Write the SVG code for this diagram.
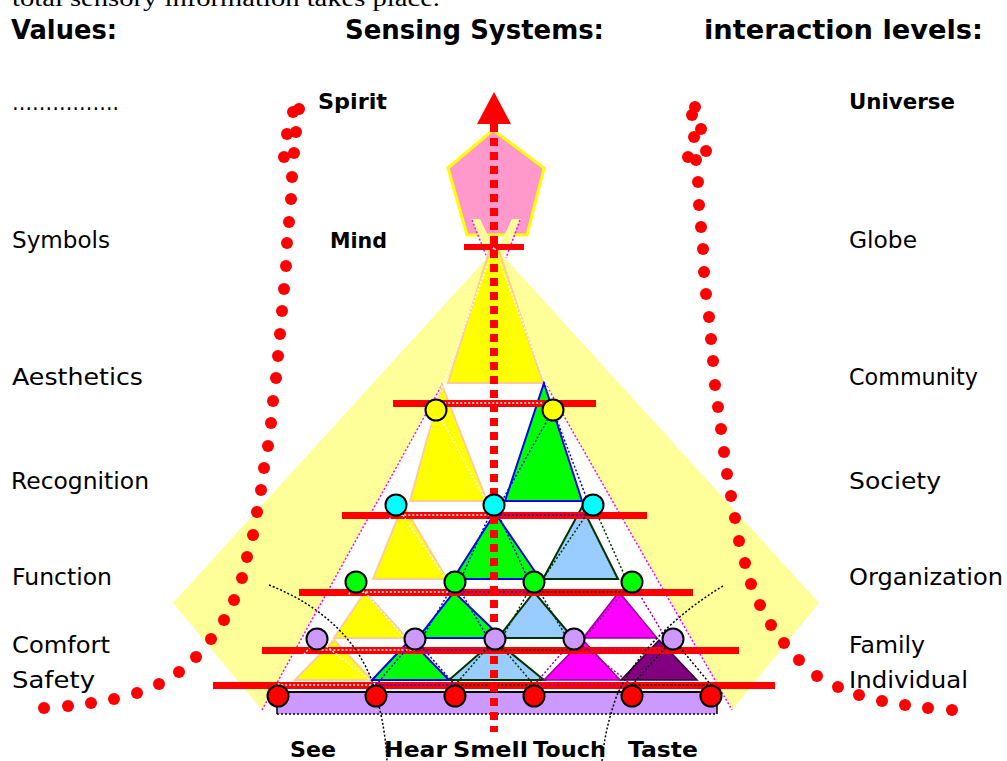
<svg xmlns="http://www.w3.org/2000/svg" width="1007" height="761" viewBox="0 0 1007 761">
<style>
.hd{font-family:"DejaVu Sans",sans-serif;font-weight:bold;font-size:27px;fill:#000}
.lb{font-family:"DejaVu Sans",sans-serif;font-size:23px;fill:#000}
.bl{font-family:"DejaVu Sans",sans-serif;font-weight:bold;font-size:22px;fill:#000}
.bar{fill:#FF0000}
.rd{fill:#FF0000}
.cir{stroke:#000;stroke-width:2}
.ty{fill:#FFFF00;stroke:#FFCC99;stroke-width:2}
.tg{fill:#00FF00;stroke:#0000FF;stroke-width:2}
.tb{fill:#99CCFF;stroke:#003300;stroke-width:2}
.tm{fill:#FF00FF;stroke:#990099;stroke-width:1.5}
.tp{fill:#800080;stroke:#330033;stroke-width:1.5}
.dw{fill:none;stroke:#FFFFFF;stroke-width:1.5;stroke-dasharray:2 2}
.db{fill:none;stroke:#0000FF;stroke-width:1.5;stroke-dasharray:2 2}
.dk{fill:none;stroke:#003300;stroke-width:1.5;stroke-dasharray:2 2}
.dm{fill:none;stroke:#990099;stroke-width:1.5;stroke-dasharray:2 2}
.dp{fill:none;stroke:#000000;stroke-width:1.5;stroke-dasharray:2 2}
.pk{fill:none;stroke:#FF00FF;stroke-width:1.5;stroke-dasharray:2 2}
.bk{fill:none;stroke:#000;stroke-width:1.5;stroke-dasharray:2 2}
</style>

<text x="12" y="6" font-family="Liberation Serif, serif" font-size="24" textLength="428" lengthAdjust="spacingAndGlyphs">total sensory information takes place.</text>

<g id="headers">
<text class="hd" x="11" y="39" textLength="106" lengthAdjust="spacingAndGlyphs">Values:</text>
<text class="hd" x="345" y="39" textLength="259" lengthAdjust="spacingAndGlyphs">Sensing Systems:</text>
<text class="hd" x="704" y="39" textLength="279" lengthAdjust="spacingAndGlyphs">interaction levels:</text>
</g>

<g id="background">
<polygon points="496,248 819,603 732,710 262,710 173,603" fill="#FFFF99"/>
<polygon points="443,383 545,383 732,710 262,710" fill="#FFFFFF"/>
</g>

<g id="spirit-pentagon">
<polygon points="493,130 544,168 527,235 467,235 448,168" fill="#FF99CC" stroke="#FFFF00" stroke-width="3"/>
<polygon points="471,219 480,219 495,250 489,258" fill="#FFFF99"/>
<polygon points="521,219 512,219 497,250 503,258" fill="#FFFF99"/>
<line class="pk" x1="472" y1="220" x2="487" y2="258"/>
<line class="pk" x1="520" y1="220" x2="506" y2="258"/>
</g>

<g id="pyramid">
<line class="pk" x1="443" y1="383" x2="262" y2="710"/>
<line class="pk" x1="545" y1="383" x2="732" y2="710"/>
<polygon class="ty" points="494,236 543,383 448,383"/>
<polygon class="ty" points="442,385 487,501 410,501"/>
<polygon class="tg" points="544,383 582,501 505,501"/>
<polygon class="ty" points="403,505 447,579 373,579"/>
<polygon class="tg" points="495,513 540,579 453,579"/>
<polygon class="tb" points="582,507 618,579 543,579"/>
<polygon class="ty" points="365,592 407,638 334,638"/>
<polygon class="tg" points="454,592 502,638 418,638"/>
<polygon class="tb" points="534,592 573,638 498,638"/>
<polygon class="tm" points="619,592 657,638 583,638"/>
<polygon class="ty" points="334,640 372,680 295,680"/>
<polygon class="tg" points="410,640 449,680 372,680"/>
<polygon class="tb" points="495,640 544,680 449,680"/>
<polygon class="tm" points="583,640 620,680 544,680"/>
<polygon class="tp" points="659,640 697,680 621,680"/>
</g>

<g id="levels">
<rect class="bar" x="464" y="244" width="60" height="6"/>
<rect class="bar" x="393" y="400" width="203" height="7"/>
<rect class="bar" x="342" y="512" width="305" height="7"/>
<rect class="bar" x="299" y="589" width="394" height="7"/>
<rect class="bar" x="262" y="647" width="477" height="7"/>
<rect class="bar" x="213" y="682" width="562" height="7"/>
</g>

<g id="dotted-lattice">
<polyline class="dw" points="436,403 494,247 553,403 436,403"/>
<polyline class="dw" points="396,515 436,410 494,515 396,515"/>
<polyline class="db" points="494,515 553,410 593,515 494,515"/>
<polyline class="dw" points="356,592 396,505 455,592 356,592"/>
<polyline class="db" points="455,592 494,505 534,592 455,592"/>
<polyline class="dk" points="534,592 593,505 632,592 534,592"/>
<polyline class="dw" points="317,650 356,582 415,650 317,650"/>
<polyline class="db" points="415,650 455,582 495,650 415,650"/>
<polyline class="dk" points="495,650 534,582 574,650 495,650"/>
<polyline class="dm" points="574,650 632,582 673,650 574,650"/>
<polyline class="dw" points="278,685 317,639 376,685 278,685"/>
<polyline class="db" points="376,685 415,639 455,685 376,685"/>
<polyline class="dk" points="455,685 495,639 534,685 455,685"/>
<polyline class="dm" points="534,685 574,639 632,685 534,685"/>
<polyline class="dp" points="632,685 673,639 711,685 632,685"/>
</g>

<g id="sensor-base">
<rect x="277" y="692" width="440" height="22" fill="#CC99FF"/>
<line x1="277" y1="692" x2="717" y2="692" stroke="#000" stroke-width="2"/>
<line x1="277" y1="714" x2="717" y2="714" stroke="#000" stroke-width="1.5" stroke-dasharray="2 2"/>
<line x1="277" y1="692" x2="277" y2="714" stroke="#000" stroke-width="1.5"/>
<line x1="717" y1="692" x2="717" y2="714" stroke="#000" stroke-width="1.5"/>
</g>

<g id="connectors">
<line x1="494" y1="124" x2="494" y2="732" stroke="#FF0000" stroke-width="8" stroke-dasharray="8 6"/>
<polygon points="494,92 511,124 477,124" fill="#FF0000"/>
<path class="bk" d="M269,585 C320,605 360,640 375,690 C383,720 386,740 387,761"/>
<path class="bk" d="M723,586 C675,615 635,655 617,695 C608,720 604,740 602,761"/>
</g>

<g id="nodes">
<g id="yellow-nodes" fill="#FFFF00">
<circle class="cir" cx="436" cy="410" r="10.5"/>
<circle class="cir" cx="553" cy="410" r="10.5"/>
</g>
<g id="cyan-nodes" fill="#00FFFF">
<circle class="cir" cx="396" cy="505" r="10.5"/>
<circle class="cir" cx="494" cy="505" r="10.5"/>
<circle class="cir" cx="593" cy="505" r="10.5"/>
</g>
<g id="green-nodes" fill="#00FF00">
<circle class="cir" cx="356" cy="582" r="10.5"/>
<circle class="cir" cx="455" cy="582" r="10.5"/>
<circle class="cir" cx="534" cy="582" r="10.5"/>
<circle class="cir" cx="632" cy="582" r="10.5"/>
</g>
<g id="lavender-nodes" fill="#CC99FF">
<circle class="cir" cx="317" cy="639" r="10.5"/>
<circle class="cir" cx="415" cy="639" r="10.5"/>
<circle class="cir" cx="495" cy="639" r="10.5"/>
<circle class="cir" cx="574" cy="639" r="10.5"/>
<circle class="cir" cx="673" cy="639" r="10.5"/>
</g>
<g id="red-nodes" fill="#FF0000">
<circle class="cir" cx="278" cy="696" r="10.5"/>
<circle class="cir" cx="376" cy="696" r="10.5"/>
<circle class="cir" cx="455" cy="696" r="10.5"/>
<circle class="cir" cx="534" cy="696" r="10.5"/>
<circle class="cir" cx="632" cy="696" r="10.5"/>
<circle class="cir" cx="711" cy="696" r="10.5"/>
</g>
</g>

<g id="left-curve" class="rd">
<circle cx="299" cy="109" r="6"/><circle cx="293" cy="112" r="6"/><circle cx="296" cy="132" r="6"/><circle cx="287" cy="134" r="6"/>
<circle cx="294" cy="153" r="6"/><circle cx="284" cy="157" r="6"/><circle cx="292" cy="177" r="6"/><circle cx="291" cy="199" r="6"/>
<circle cx="289" cy="222" r="6"/><circle cx="287" cy="243" r="6"/><circle cx="286" cy="266" r="6"/><circle cx="284" cy="289" r="6"/>
<circle cx="282" cy="311" r="6"/><circle cx="280" cy="334" r="6"/><circle cx="278" cy="356" r="6"/><circle cx="276" cy="378" r="6"/>
<circle cx="273" cy="401" r="6"/><circle cx="271" cy="423" r="6"/><circle cx="268" cy="446" r="6"/><circle cx="264" cy="468" r="6"/>
<circle cx="261" cy="490" r="6"/><circle cx="257" cy="512" r="6"/><circle cx="253" cy="535" r="6"/><circle cx="247" cy="557" r="6"/>
<circle cx="242" cy="578" r="6"/><circle cx="234" cy="600" r="6"/><circle cx="224" cy="620" r="6"/><circle cx="211" cy="639" r="6"/>
<circle cx="196" cy="657" r="6"/><circle cx="179" cy="672" r="6"/><circle cx="159" cy="684" r="6"/><circle cx="137" cy="693" r="6"/>
<circle cx="114" cy="699" r="6"/><circle cx="91" cy="703" r="6"/><circle cx="68" cy="706" r="6"/><circle cx="44" cy="708" r="6"/>
</g>

<g id="right-curve" class="rd">
<circle cx="695" cy="107" r="6"/><circle cx="692" cy="115" r="6"/><circle cx="701" cy="129" r="6"/><circle cx="694" cy="137" r="6"/>
<circle cx="706" cy="151" r="6"/><circle cx="688" cy="157" r="6"/><circle cx="696" cy="160" r="6"/><circle cx="698" cy="182" r="6"/>
<circle cx="699" cy="205" r="6"/><circle cx="701" cy="227" r="6"/><circle cx="703" cy="249" r="6"/><circle cx="704" cy="272" r="6"/>
<circle cx="706" cy="294" r="6"/><circle cx="709" cy="317" r="6"/><circle cx="711" cy="339" r="6"/><circle cx="713" cy="361" r="6"/>
<circle cx="715" cy="385" r="6"/><circle cx="718" cy="407" r="6"/><circle cx="721" cy="429" r="6"/><circle cx="724" cy="452" r="6"/>
<circle cx="727" cy="474" r="6"/><circle cx="731" cy="496" r="6"/><circle cx="735" cy="518" r="6"/><circle cx="739" cy="541" r="6"/>
<circle cx="745" cy="563" r="6"/><circle cx="751" cy="584" r="6"/><circle cx="760" cy="605" r="6"/><circle cx="771" cy="625" r="6"/>
<circle cx="784" cy="643" r="6"/><circle cx="799" cy="660" r="6"/><circle cx="817" cy="676" r="6"/><circle cx="838" cy="687" r="6"/>
<circle cx="859" cy="695" r="6"/><circle cx="882" cy="701" r="6"/><circle cx="905" cy="705" r="6"/><circle cx="928" cy="708" r="6"/>
<circle cx="952" cy="710" r="6"/>
</g>

<g id="values-labels">
<text class="lb" x="12" y="110" textLength="107" lengthAdjust="spacingAndGlyphs">…………….</text>
<text class="lb" x="12" y="248" textLength="98" lengthAdjust="spacingAndGlyphs">Symbols</text>
<text class="lb" x="12" y="385" textLength="131" lengthAdjust="spacingAndGlyphs">Aesthetics</text>
<text class="lb" x="11" y="489" textLength="138" lengthAdjust="spacingAndGlyphs">Recognition</text>
<text class="lb" x="12" y="585" textLength="100" lengthAdjust="spacingAndGlyphs">Function</text>
<text class="lb" x="12" y="653" textLength="98" lengthAdjust="spacingAndGlyphs">Comfort</text>
<text class="lb" x="12" y="688" textLength="83" lengthAdjust="spacingAndGlyphs">Safety</text>
</g>

<g id="level-labels">
<text class="bl" x="849" y="109" textLength="106" lengthAdjust="spacingAndGlyphs">Universe</text>
<text class="lb" x="849" y="248" textLength="68" lengthAdjust="spacingAndGlyphs">Globe</text>
<text class="lb" x="849" y="385" textLength="129" lengthAdjust="spacingAndGlyphs">Community</text>
<text class="lb" x="849" y="489" textLength="92" lengthAdjust="spacingAndGlyphs">Society</text>
<text class="lb" x="849" y="585" textLength="154" lengthAdjust="spacingAndGlyphs">Organization</text>
<text class="lb" x="849" y="653" textLength="76" lengthAdjust="spacingAndGlyphs">Family</text>
<text class="lb" x="849" y="688" textLength="119" lengthAdjust="spacingAndGlyphs">Individual</text>
</g>

<g id="center-labels">
<text class="bl" x="318" y="109" textLength="69" lengthAdjust="spacingAndGlyphs">Spirit</text>
<text class="bl" x="330" y="248" textLength="57" lengthAdjust="spacingAndGlyphs">Mind</text>
</g>

<g id="sense-labels">
<text class="bl" x="290" y="757" textLength="46" lengthAdjust="spacingAndGlyphs">See</text>
<text class="bl" x="384" y="757" textLength="63" lengthAdjust="spacingAndGlyphs">Hear</text>
<text class="bl" x="453" y="757" textLength="75" lengthAdjust="spacingAndGlyphs">Smell</text>
<text class="bl" x="533" y="757" textLength="73" lengthAdjust="spacingAndGlyphs">Touch</text>
<text class="bl" x="628" y="757" textLength="70" lengthAdjust="spacingAndGlyphs">Taste</text>
</g>
</svg>
